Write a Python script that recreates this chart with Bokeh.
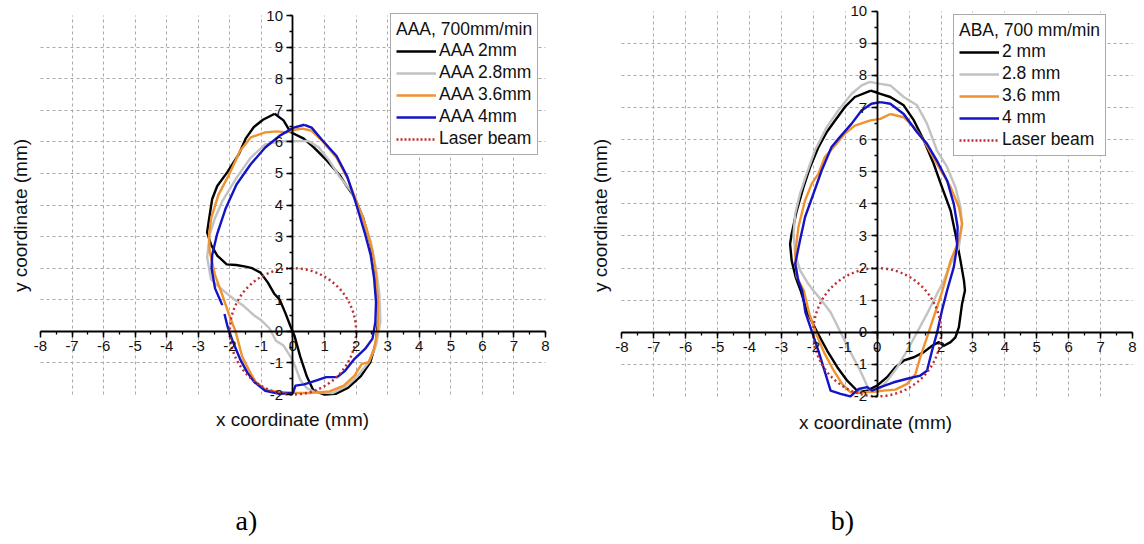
from math import pi

from bokeh.embed import file_html
from bokeh.layouts import row
from bokeh.models import (Grid, Label, Legend, LegendItem, LinearAxis, PrintfTickFormatter,
                          Range1d, SingleIntervalTicker)
from bokeh.plotting import figure
from bokeh.resources import INLINE

nan = float("nan")

# ---------------- AAA, 700 mm/min : melt-pool cross sections (mm) ----------------
aaa_2_x = [-0.58, -0.95, -1.24, -1.5, -1.72, -2.08, -2.4, -2.56, -2.66, -2.72, -2.6, -2.4, -2.1,
           -1.8, -1.5, -1.3, -1.03, -0.8, -0.6, -0.42, -0.25, -0.08, 0.05, 0.23, 0.44, 0.65, 1.0,
           1.35, 1.75, 2.15, 2.45, 2.63, 2.7, 2.68, 2.6, 2.45, 2.22, 1.95, 1.7, 1.49, 1.07, 0.65,
           0.34, -0.08, -0.3, -0.58]
aaa_2_y = [6.89, 6.7, 6.47, 6.1, 5.6, 5.04, 4.6, 4.19, 3.55, 3.13, 2.75, 2.4, 2.12,
           2.1, 2.05, 2.0, 1.86, 1.55, 1.2, 1.0, 0.6, 0.16, -0.15, -0.8, -1.43, -1.88, -2.0,
           -1.98, -1.78, -1.42, -0.98, -0.35, 0.4, 1.2, 2.0, 2.8, 3.6, 4.25, 4.6, 4.93, 5.41, 5.83,
           6.1, 6.31, 6.68, 6.89]

aaa_28_x = [0.48, 0.0, -0.4, -0.88, -1.34, -1.79, -2.24, -2.47, -2.64, -2.72, -2.6, -2.4, -2.1,
            -1.9, -1.56, -1.25, -1.03, -0.75, -0.54, -0.3, -0.08, 0.07, 0.23, 0.44, 0.7, 1.27,
            1.72, 2.06, 2.4, 2.63, 2.77, 2.74, 2.63, 2.46, 2.18, 1.84, 1.5, 1.16, 0.82, 0.48]
aaa_28_y = [6.03, 6.02, 6.02, 5.92, 5.5, 4.86, 4.12, 3.59, 3.06, 2.35, 1.65, 1.45, 1.2,
            1.04, 0.8, 0.52, 0.37, 0.1, -0.3, -0.45, -0.8, -1.11, -1.54, -1.8, -1.93, -1.95,
            -1.72, -1.4, -0.98, -0.45, 0.3, 1.15, 2.0, 2.85, 3.69, 4.44, 4.86, 5.39, 5.82, 6.03]

aaa_36_x = [0.59, 0.3, 0.14, -0.2, -0.5, -0.88, -1.34, -1.68, -2.02, -2.36, -2.59, -2.66, -2.64,
            -2.47, -2.24, -2.02, -1.82, -1.61, -1.4, -1.19, -0.85, -0.4, 0.14, 0.59, 1.16, 1.61,
            1.95, 2.18, 2.4, 2.57, 2.69, 2.69, 2.63, 2.52, 2.29, 2.01, 1.72, 1.38, 0.93, 0.59]
aaa_36_y = [6.35, 6.42, 6.4, 6.3, 6.33, 6.3, 6.14, 5.71, 4.97, 4.33, 3.59, 3.06, 2.53,
            1.78, 1.15, 0.51, 0.0, -0.8, -1.22, -1.59, -1.86, -1.92, -1.95, -1.95, -1.9, -1.72,
            -1.4, -1.03, -0.98, -0.55, 0.08, 0.93, 1.78, 2.53, 3.38, 4.12, 4.86, 5.5, 6.03, 6.35]

aaa_4_x = [0.36, 0.02, -0.43, -0.88, -1.34, -1.79, -2.13, -2.41, -2.56, -2.58, -2.47, -2.24, nan,
           -2.17, -2.07, -1.9, -1.68, -1.45, -1.22, -0.88, -0.43, 0.0, 0.08, 0.35, 0.75, 1.05,
           1.4, 1.65, 1.95, 2.29, 2.52, 2.61, 2.63, 2.57, 2.46, 2.29, 2.1, 1.95, 1.72, 1.38, 0.93,
           0.59, 0.36]
aaa_4_y = [6.54, 6.45, 6.19, 5.82, 5.29, 4.65, 3.9, 3.06, 2.42, 2.0, 1.36, 0.83, nan,
           0.55, 0.14, -0.34, -0.87, -1.3, -1.61, -1.88, -1.98, -1.95, -1.72, -1.68, -1.55, -1.45,
           -1.45, -1.25, -0.87, -0.55, -0.23, 0.3, 0.93, 1.68, 2.42, 3.06, 3.7, 4.2, 4.9, 5.55, 6.05,
           6.45, 6.54]

# ---------------- ABA, 700 mm/min ----------------
aba_2_x = [-0.2, -0.7, -1.01, -1.32, -1.58, -1.84, -2.1, -2.31, -2.52, -2.68, -2.73, -2.68, -2.55,
           -2.4, -2.19, -1.88, -1.57, -1.25, -0.94, -0.68, -0.58, -0.32, 0.0, 0.31, 0.57, 0.84,
           1.15, 1.46, 1.72, 1.93, 2.09, 2.3, 2.45, 2.56, 2.66, 2.75, 2.72, 2.61, 2.45, 2.3, 2.03,
           1.77, 1.46, 1.15, 0.83, 0.41, 0.1, -0.2]
aba_2_y = [7.53, 7.33, 7.02, 6.6, 6.24, 5.77, 5.15, 4.52, 3.79, 3.07, 2.75, 2.23, 1.7,
           1.3, 0.62, 0.0, -0.57, -1.09, -1.51, -1.77, -1.87, -1.82, -1.66, -1.4, -1.09, -0.88,
           -0.78, -0.62, -0.42, -0.31, -0.42, -0.31, -0.16, 0.16, 0.89, 1.3, 1.6, 2.23, 3.07, 3.79,
           4.52, 5.25, 5.98, 6.6, 7.07, 7.33, 7.43, 7.53]

aba_28_x = [-0.23, -0.49, -0.8, -1.22, -1.58, -1.95, -2.21, -2.42, -2.57, -2.62, -2.57, -2.41,
            -2.16, -2.0, -1.75, -1.46, -1.15, -0.84, -0.53, -0.27, -0.11, 0.1, 0.31, 0.63, 0.94,
            1.25, 1.56, 1.82, 2.09, 2.3, 2.56, 2.66, 2.61, 2.45, 2.19, 1.87, 1.56, 1.25, 0.83,
            0.41, 0.1, -0.23]
aba_28_y = [7.8, 7.69, 7.43, 6.91, 6.39, 5.67, 4.94, 4.31, 3.69, 3.07, 2.44, 1.92,
            1.51, 1.3, 1.0, 0.62, 0.0, -0.62, -1.2, -1.77, -1.85, -1.75, -1.51, -1.09, -0.57,
            0.0, 0.57, 1.09, 1.61, 2.13, 2.65, 3.38, 3.9, 4.52, 5.15, 5.67, 6.5, 7.07, 7.33,
            7.69, 7.74, 7.8]

aba_36_x = [0.41, 0.1, -0.21, -0.7, -1.01, -1.32, -1.64, -1.84, -2.05, -2.26, -2.47, -2.57,
            -2.52, -2.3, -2.14, -1.93, -1.67, -1.36, -1.1, -0.84, -0.42, 0.0, 0.2, 0.57, 0.94,
            1.2, 1.35, 1.56, 1.77, 1.98, 2.1, 2.3, 2.56, 2.66, 2.56, 2.3, 1.87, 1.46, 1.15, 0.83,
            0.41]
aba_36_y = [6.8, 6.65, 6.6, 6.44, 6.19, 5.82, 5.46, 4.94, 4.63, 4.11, 3.27, 2.44,
            1.72, 1.3, 0.62, 0.0, -0.62, -1.2, -1.61, -1.87, -1.87, -1.85, -1.82, -1.79, -1.61,
            -1.3, -0.78, -0.16, 0.47, 1.09, 1.5, 2.23, 2.86, 3.38, 3.9, 4.52, 5.25, 5.98, 6.39, 6.7,
            6.8]

aba_4_x = [0.1, -0.18, -0.49, -0.8, -1.17, -1.43, -1.74, -2.0, -2.26, -2.42, -2.57, -2.47, -2.35,
           -2.25, -2.04, -1.83, -1.62, -1.46, -1.15, -0.84, -0.58, -0.32, -0.16, 0.1, 0.52, 0.94,
           1.35, 1.56, 1.72, 1.88, 2.03, 2.19, 2.4, 2.5, 2.52, 2.4, 2.19, 1.87, 1.56, 1.25, 0.83,
           0.41, 0.1]
aba_4_y = [7.17, 7.12, 6.91, 6.5, 6.08, 5.77, 5.04, 4.31, 3.59, 2.86, 2.13, 1.6, 1.29,
           0.62, 0.0, -0.62, -1.3, -1.82, -1.92, -2.0, -1.77, -1.71, -1.82, -1.71, -1.56, -1.45,
           -1.35, -1.2, -0.57, 0.0, 0.68, 1.3, 2.03, 2.66, 3.28, 4.0, 4.73, 5.35, 5.87, 6.23, 6.8,
           7.12, 7.17]

# laser spot, centred on the origin
beam_x = 0.0
beam_y = 0.0
beam_radius = 2.0

aaa_labels = ["AAA 2mm", "AAA 2.8mm", "AAA 3.6mm", "AAA 4mm"]
aba_labels = ["2 mm", "2.8 mm", "3.6 mm", "4 mm"]
beam_label = "Laser beam"

x_ticks_start, x_ticks_end = -8, 8
y_ticks_start, y_ticks_end = -2, 10

COLORS = ["#000000", "#c2c2c2", "#f0922e", "#1414c4"]
BEAM_COLOR = "#be2d32"
SANS = "Liberation Sans"
SERIF = "Liberation Serif"


def make_panel(series, labels, legend_title, tag, size, x_view, y_view, legend_xy,
               xlab_xy, ylab_xy, tag_xy):
    w, h = size
    p = figure(width=w, height=h,
               x_range=Range1d(*x_view), y_range=Range1d(*y_view),
               x_axis_location=None, y_axis_location=None,
               toolbar_location=None, output_backend="svg",
               min_border=0)
    p.outline_line_color = None
    p.background_fill_color = "white"
    p.border_fill_color = "white"
    for g in p.grid:
        g.visible = False

    xt = SingleIntervalTicker(interval=1, num_minor_ticks=2)
    yt = SingleIntervalTicker(interval=1, num_minor_ticks=2)

    grid_style = dict(grid_line_color="#a9a9a9", grid_line_dash="3 3", grid_line_width=1)
    p.add_layout(Grid(dimension=0, ticker=xt, bounds=(x_ticks_start + 1, x_ticks_end - 1),
                      cross_bounds=(y_ticks_start, y_ticks_end), **grid_style))
    p.add_layout(Grid(dimension=1, ticker=yt, bounds=(y_ticks_start + 1, y_ticks_end - 1),
                      cross_bounds=(x_ticks_start, x_ticks_end), **grid_style))

    xaxis = LinearAxis(ticker=xt, fixed_location=0, bounds=(x_ticks_start, x_ticks_end))
    yaxis = LinearAxis(ticker=yt, fixed_location=0, bounds=(y_ticks_start, y_ticks_end))
    for ax in (xaxis, yaxis):
        ax.formatter = PrintfTickFormatter(format="%d")
        ax.axis_line_width = 1.8
        ax.axis_line_color = "#000000"
        ax.major_tick_in = 0
        ax.major_tick_out = 6
        ax.minor_tick_in = 0
        ax.minor_tick_out = 3
        ax.major_tick_line_width = 1.5
        ax.minor_tick_line_width = 1.3
        ax.major_label_text_font = SANS
        ax.major_label_text_font_size = "15px"
        ax.major_label_text_color = "#111111"
        ax.major_label_standoff = 4
    p.add_layout(xaxis, "below")
    p.add_layout(yaxis, "left")

    items = []
    for (xs, ys), lab, col in zip(series, labels, COLORS):
        r = p.line(xs, ys, line_color=col, line_width=2.4, line_join="round")
        items.append(LegendItem(label=lab, renderers=[r]))

    p.ellipse(x=[beam_x], y=[beam_y], width=[2 * beam_radius], height=[2 * beam_radius],
              fill_color=None, line_color=BEAM_COLOR, line_width=2.4, line_dash="2 3")
    # zero-length line that only supplies the dotted key in the legend
    beam_key = p.line(x=[beam_x, beam_x], y=[beam_y, beam_y], line_color=BEAM_COLOR,
                      line_width=2.4, line_dash="2 2")
    items.append(LegendItem(label=beam_label, renderers=[beam_key]))

    legend = Legend(items=items, location=legend_xy, title=legend_title,
                    title_text_font=SANS, title_text_font_size="17.5px",
                    title_text_font_style="normal", title_text_color="#111111",
                    title_standoff=-6,
                    label_text_font=SANS, label_text_font_size="17.5px",
                    label_text_color="#111111",
                    glyph_width=40, glyph_height=18, label_height=18,
                    label_standoff=3, spacing=1, padding=5, margin=0,
                    border_line_color="#555555", border_line_width=1.5,
                    background_fill_alpha=1.0)
    p.add_layout(legend)

    p.add_layout(Label(x=xlab_xy[0], y=xlab_xy[1], x_units="screen", y_units="screen",
                       text="x coordinate (mm)", text_font=SANS, text_font_size="19px",
                       text_align="center", text_baseline="middle", text_color="#111111"))
    p.add_layout(Label(x=ylab_xy[0], y=ylab_xy[1], x_units="screen", y_units="screen",
                       text="y coordinate (mm)", text_font=SANS, text_font_size="19px",
                       text_align="center", text_baseline="middle", angle=pi / 2,
                       text_color="#111111"))
    p.add_layout(Label(x=tag_xy[0], y=tag_xy[1], x_units="screen", y_units="screen",
                       text=tag, text_font=SERIF, text_font_size="28px",
                       text_align="center", text_baseline="middle", text_color="#000000"))
    return p


left = make_panel(
    series=[(aaa_2_x, aaa_2_y), (aaa_28_x, aaa_28_y), (aaa_36_x, aaa_36_y), (aaa_4_x, aaa_4_y)],
    labels=aaa_labels, legend_title="AAA, 700mm/min", tag="a)",
    size=(580, 544), x_view=(-9.267, 9.109), y_view=(-6.749, 10.475),
    legend_xy=(390, 389), xlab_xy=(292, 125), ylab_xy=(20, 329), tag_xy=(246, 24))

right = make_panel(
    series=[(aba_2_x, aba_2_y), (aba_28_x, aba_28_y), (aba_36_x, aba_36_y), (aba_4_x, aba_4_y)],
    labels=aba_labels, legend_title="ABA, 700 mm/min", tag="b)",
    size=(564, 544), x_view=(-9.297, 8.376), y_view=(-6.615, 10.337),
    legend_xy=(373, 388), xlab_xy=(295, 122), ylab_xy=(20, 329), tag_xy=(262, 24))

layout = row(left, right)
open("out.html", "w").write(file_html(layout, INLINE))
